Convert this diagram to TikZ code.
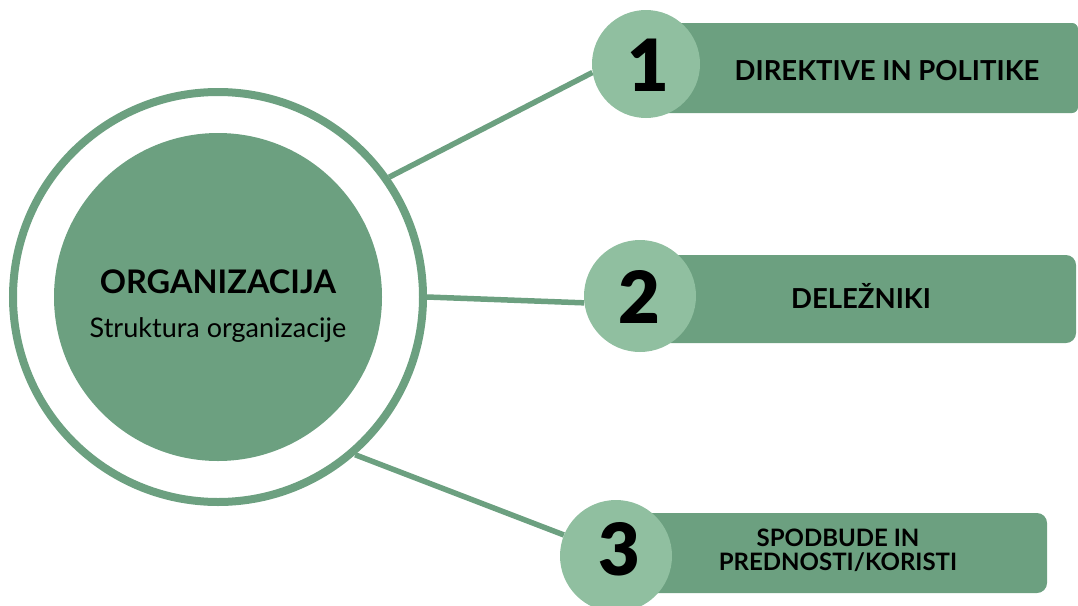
\documentclass[tikz,border=0pt]{standalone}
\usepackage{fontspec}
\setmainfont{Lato}
\newfontfamily\numfont{Lato Black}
\usetikzlibrary{backgrounds}
\definecolor{dkgreen}{HTML}{6CA080}
\definecolor{ltgreen}{HTML}{90BFA0}
\begin{document}
\begin{tikzpicture}[x=1pt,y=-1pt,
 conn/.style={draw=dkgreen,line width=5.5pt},
 numcirc/.style={circle,fill=ltgreen,minimum size=110pt,inner sep=0pt},
 bar/.style={fill=dkgreen,inner sep=0pt,rounded corners=10pt},
 bartext/.style={font=\fontsize{27.5}{22}\selectfont\bfseries,anchor=base,inner sep=0pt},
 smalltext/.style={font=\fontsize{24}{24}\selectfont\bfseries,anchor=base,align=center,inner sep=0pt},
 numtext/.style={font=\fontsize{72}{72}\selectfont\numfont,anchor=base,inner sep=0pt}]
\useasboundingbox (0,0) rectangle (1078,605);
% central circle
\node[circle,draw=dkgreen,fill=white,line width=8pt,minimum size=410pt,inner sep=0pt] (ring) at (218,297) {};
\node[circle,fill=dkgreen,minimum size=328pt,inner sep=0pt] (core) at (218,297) {};
\node[font=\fontsize{32.5}{32}\selectfont\bfseries,anchor=base,inner sep=0pt] (title) at (218,293) {ORGANIZACIJA};
\node[font=\fontsize{27}{27}\selectfont,anchor=base,inner sep=0pt] (sub) at (218,337) {Struktura organizacije};
% bars
\node[bar,minimum width=418pt,minimum height=90pt,rounded corners=6pt] (r1) at (869,68) {};
\node[bar,minimum width=430pt,minimum height=88pt] (r2) at (861,299) {};
\node[bar,minimum width=418pt,minimum height=80pt] (r3) at (838,553) {};
\node[bartext] (t1) at (887,80) {DIREKTIVE IN POLITIKE};
\node[bartext] (t2) at (861,308) {DELEŽNIKI};
\node[smalltext] (t3) at (838,570) {SPODBUDE IN\\PREDNOSTI/KORISTI};
% number circles
\node[numcirc,minimum size=108pt] (c1) at (646,64) {};
\node[numcirc,minimum size=112pt] (c2) at (640,296) {};
\node[numcirc,minimum size=112pt] (c3) at (616,556) {};
\node[numtext] (n1) at (648,91) {1};
\node[numtext] (n2) at (639,323) {2};
\node[numtext] (n3) at (619,575) {3};
% connectors
\begin{scope}[on background layer]
\draw[conn] (ring.35.4) -- (c1.189);
\draw[conn] (ring.0) -- (c2.187);
\draw[conn] (ring.-49.3) -- (c3.158);
\end{scope}
\end{tikzpicture}
\end{document}
